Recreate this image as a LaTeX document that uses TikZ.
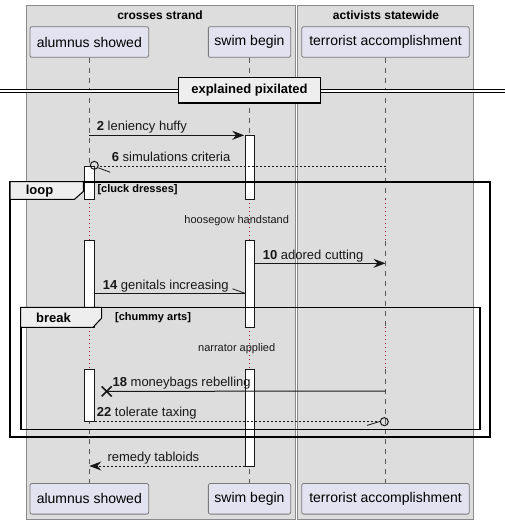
\documentclass[tikz,border=0pt]{standalone}
\usepackage{fontspec}
\setmainfont{Liberation Sans}
\usetikzlibrary{arrows.meta,calc}
\definecolor{grpfill}{HTML}{DDDDDD}
\definecolor{grpline}{HTML}{8A8A8A}
\definecolor{partfill}{HTML}{E2E2F0}
\definecolor{partline}{HTML}{7A7A7A}
\definecolor{ink}{HTML}{181818}
\definecolor{delay}{HTML}{A80036}
\definecolor{hdrfill}{HTML}{EEEEEE}
\tikzset{
  grpbox/.style={fill=grpfill, draw=grpline, line width=1pt},
  grptitle/.style={font=\fontsize{12}{14}\selectfont\bfseries, inner sep=0},
  part/.style={fill=partfill, draw=partline, line width=0.8pt, rounded corners=2pt, font=\fontsize{14}{16}\selectfont, inner sep=0},
  life/.style={draw=gray!70!black, line width=0.8pt, dash pattern=on 5pt off 5pt},
  delayline/.style={draw=delay, line width=0.8pt, dash pattern=on 1pt off 3pt},
  actbox/.style={fill=white, draw=ink, line width=1pt},
  msgline/.style={draw=ink, line width=1pt},
  retline/.style={draw=ink, line width=1pt, dash pattern=on 2pt off 2pt},
  msghead/.style={-{Stealth[length=12pt, width=9pt, inset=4pt]}},
  msgtext/.style={font=\fontsize{13}{15}\selectfont, anchor=base west, inner sep=0, text=ink},
  delaytext/.style={font=\fontsize{11}{13}\selectfont, inner sep=0, text=ink},
  frameline/.style={draw=black, line width=1.6pt},
  hdr/.style={fill=hdrfill, draw=black, line width=1pt},
  hdrtext/.style={font=\fontsize{13}{15}\selectfont\bfseries, inner sep=0},
  condtext/.style={font=\fontsize{11}{13}\selectfont\bfseries, anchor=west, inner sep=0},
}
\begin{document}
\begin{tikzpicture}[x=1pt, y=-1pt]
\fill[white] (0,0) rectangle (505,524);
\useasboundingbox (0,0) rectangle (505,524);

% groups
\draw[grpbox] (26.7,6) rectangle (295.7,519);
\draw[grpbox] (297,6) rectangle (473.3,519);
\node[grptitle] (g1) at (160,15) {crosses strand};
\node[grptitle] (g2) at (386,15) {activists statewide};

% participants
\node[part, minimum width=118.7pt, minimum height=30.6pt] (aT) at (89.3,42) {alumnus showed};
\node[part, minimum width=82.3pt, minimum height=30.6pt] (sT) at (249.5,42) {swim begin};
\node[part, minimum width=167.6pt, minimum height=30.6pt] (tT) at (385.5,42) {terrorist accomplishment};
\node[part, minimum width=118.7pt, minimum height=30.6pt] (aB) at (89.3,498.8) {alumnus showed};
\node[part, minimum width=82.3pt, minimum height=30.6pt] (sB) at (249.5,498.8) {swim begin};
\node[part, minimum width=167.6pt, minimum height=30.6pt] (tB) at (385.5,498.8) {terrorist accomplishment};

% y levels of delays
\coordinate (d1a) at (0,199.3);
\coordinate (d1b) at (0,240.7);
\coordinate (d2a) at (0,327.3);
\coordinate (d2b) at (0,369.3);

% lifelines
\foreach \p in {a,s,t}{
  \draw[life] (\p T.south) -- (\p T.south |- d1a);
  \draw[delayline] (\p T.south |- d1a) -- (\p T.south |- d1b);
  \draw[life] (\p T.south |- d1b) -- (\p T.south |- d2a);
  \draw[delayline] (\p T.south |- d2a) -- (\p T.south |- d2b);
  \draw[life] (\p T.south |- d2b) -- (\p B.north);
}

% activations
\draw[actbox] (84.3,166.7) rectangle (94.7,199.3);
\draw[actbox] (84.3,240.7) rectangle (94.7,327.3);
\draw[actbox] (84.3,369.3) rectangle (94.7,421);
\draw[actbox] (245,135.3) rectangle (254.7,199.3);
\draw[actbox] (245,240.7) rectangle (254.7,327.3);
\draw[actbox] (245,369.3) rectangle (254.7,466.7);

% divider
\coordinate (dvL) at (0,90.7);
\coordinate (dvR) at (505,90.7);
\draw[line width=1pt, double=white, double distance=2.2pt, draw=black] (dvL) -- (dvR);
\node[fill=hdrfill, draw=black, line width=1.6pt, minimum width=142pt, minimum height=25.6pt, inner sep=0, font=\fontsize{13}{15}\selectfont\bfseries] (div) at (249.5,90.5) {explained pixilated};

% message 2
\coordinate (m2a) at (89.3,135.3);
\coordinate (m2b) at (244.2,135.3);
\draw[msgline, msghead] (m2a) -- (m2b);
\node[msgtext] (l2) at (96.7,131) {\textbf{2} leniency huffy};

% message 6
\coordinate (m6a) at (385.5,166);
\coordinate (m6b) at (98.3,166);
\coordinate (m6c) at (94.3,165.3);
\draw[retline] (m6a) -- (m6b);
\draw[ink, line width=1pt] (m6c) circle (4pt);
\draw[ink, line width=0.8pt] ($(m6c)+(4,2.5)$) -- ++(12,4.5);
\node[msgtext] (l6) at (111.7,161.2) {\textbf{6} simulations criteria};

% loop frame
\draw[frameline] (10,181.7) rectangle (490,436.7);
\draw[hdr] (10,181.7) -- (83.3,181.7) -- (83.3,191.5) -- (74.5,199.3) -- (10,199.3) -- cycle;
\node[hdrtext] (loopt) at (39.5,190.8) {loop};
\node[condtext] (loopc) at (97.3,190) {[cluck dresses]};
\node[delaytext] (dl1) at (236.7,221) {hoosegow handstand};

% message 10
\coordinate (m10a) at (254.7,263.3);
\coordinate (m10b) at (385.5,263.3);
\draw[msgline, msghead] (m10a) -- (m10b);
\node[msgtext] (l10) at (262.7,259) {\textbf{10} adored cutting};

% message 14
\coordinate (m14a) at (94.7,293.3);
\coordinate (m14b) at (245,293.3);
\draw[msgline] (m14a) -- (m14b);
\draw[ink, line width=0.8pt] (m14b) -- ++(-12.5,-4.5);
\node[msgtext] (l14) at (102.7,289) {\textbf{14} genitals increasing};

% break frame
\draw[frameline] (20.7,307.3) rectangle (480,429.3);
\draw[hdr] (20.7,307.3) -- (101.7,307.3) -- (101.7,318) -- (93,327.3) -- (20.7,327.3) -- cycle;
\node[hdrtext] (breakt) at (53.5,317.5) {break};
\node[condtext] (breakc) at (115,317.3) {[chummy arts]};
\node[delaytext] (dl2) at (236.7,349) {narrator applied};

% message 18
\coordinate (m18a) at (385.5,391);
\coordinate (m18b) at (106.7,391.4);
\draw[msgline] (m18a) -- (m18b);
\draw[ink, line width=1.6pt] ($(m18b)+(-5,-5)$) -- ($(m18b)+(5,5)$) ($(m18b)+(-5,5)$) -- ($(m18b)+(5,-5)$);
\node[msgtext] (l18) at (112.4,386.6) {\textbf{18} moneybags rebelling};

% message 22
\coordinate (m22a) at (94.7,421);
\coordinate (m22c) at (384.3,421.7);
\coordinate (m22b) at (380.3,421);
\draw[retline] (m22a) -- (m22b);
\draw[ink, line width=1pt] (m22c) circle (4pt);
\draw[ink, line width=0.8pt] ($(m22c)+(-4.3,-0.3)$) -- ++(-13,4);
\node[msgtext] (l22) at (96.7,416.7) {\textbf{22} tolerate taxing};

% remedy tabloids
\coordinate (mra) at (245,466);
\coordinate (mrb) at (89.3,466);
\draw[retline, msghead] (mra) -- (mrb);
\node[msgtext] (lr) at (107.3,461.5) {remedy tabloids};
\end{tikzpicture}
\end{document}
